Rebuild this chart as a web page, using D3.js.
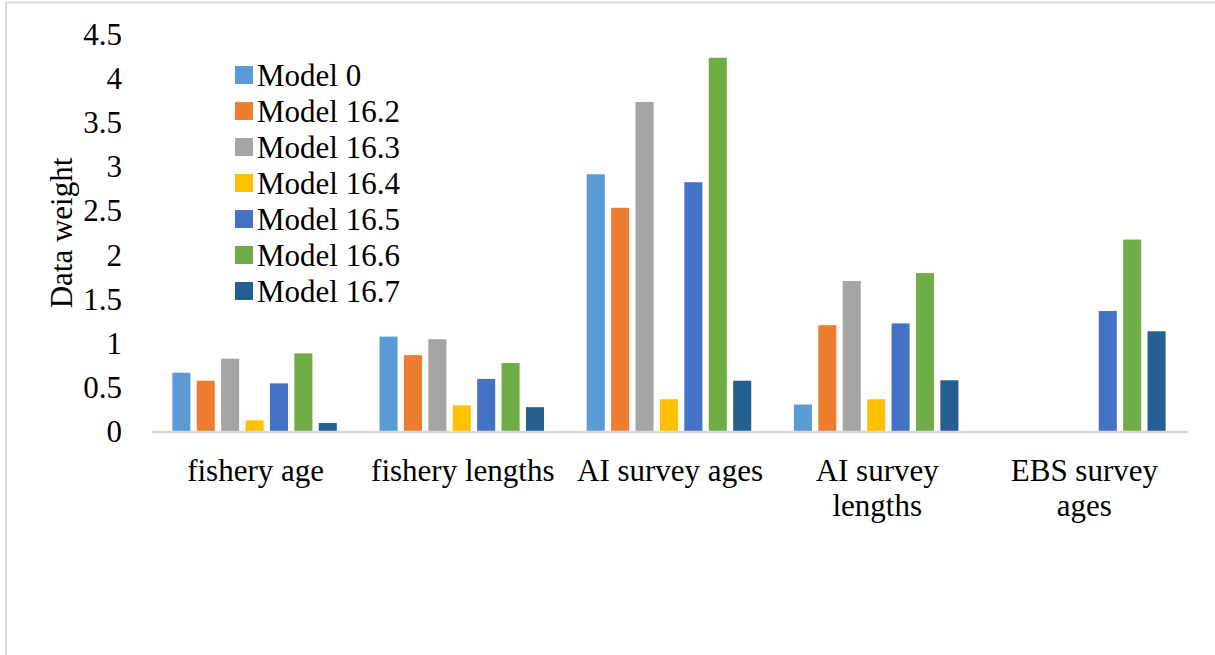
<!DOCTYPE html>
<html>
<head>
<meta charset="utf-8">
<script src="https://cdn.jsdelivr.net/npm/d3@7"></script>
<style>
  html, body { margin: 0; padding: 0; background: #fff; }
  svg { display: block; }
  svg text { font-family: "Times New Roman", "Liberation Serif", Tinos, "DejaVu Serif", serif; fill: #000; }
</style>
</head>
<body>
<svg id="chart" width="1215" height="655"></svg>
<script>
// Data weights by data component and model run
const categories = ["fishery age", "fishery lengths", "AI survey ages", "AI survey lengths", "EBS survey ages"];
const categoryLines = [["fishery age"], ["fishery lengths"], ["AI survey ages"], ["AI survey", "lengths"], ["EBS survey", "ages"]];
const seriesNames = ["Model 0", "Model 16.2", "Model 16.3", "Model 16.4", "Model 16.5", "Model 16.6", "Model 16.7"];
const model0   = [0.66, 1.07, 2.91, 0.30, null];
const model162 = [0.57, 0.86, 2.53, 1.20, null];
const model163 = [0.82, 1.04, 3.73, 1.70, null];
const model164 = [0.12, 0.29, 0.36, 0.36, null];
const model165 = [0.54, 0.59, 2.82, 1.22, 1.36];
const model166 = [0.88, 0.77, 4.23, 1.79, 2.17];
const model167 = [0.09, 0.27, 0.57, 0.575, 1.13];
const seriesValues = [model0, model162, model163, model164, model165, model166, model167];
const colors = ["#5B9BD5", "#ED7D31", "#A5A5A5", "#FFC000", "#4472C4", "#70AD47", "#255E91"];
const yTicks = [0, 0.5, 1, 1.5, 2, 2.5, 3, 3.5, 4, 4.5];

const svg = d3.select("#chart");
const W = 1215, H = 655;
const plot = { left: 152, right: 1188, top: 34, bottom: 431 };
const fontSize = 31;
const serif = "'Times New Roman', 'Liberation Serif', Tinos, 'DejaVu Serif', serif";

// outer frame (only top and left edges fall inside the canvas)
svg.append("rect")
  .attr("x", 6).attr("y", 2.5)
  .attr("width", W + 20).attr("height", H + 20)
  .attr("fill", "none").attr("stroke", "#d9d9d9").attr("stroke-width", 2);

const x0 = d3.scaleBand().domain(categories).range([plot.left, plot.right]).padding(0);
const bw = x0.bandwidth();
const x1 = d3.scaleBand().domain(seriesNames)
  .range([bw * 0.098, bw * 0.892]).paddingInner(0.26).paddingOuter(0);
const y = d3.scaleLinear().domain([0, 4.5]).range([plot.bottom, plot.top]);
const color = d3.scaleOrdinal().domain(seriesNames).range(colors);

// bars
const groups = svg.append("g").selectAll("g")
  .data(categories).join("g")
  .attr("transform", d => `translate(${x0(d)},0)`);

groups.selectAll("rect")
  .data((c, ci) => seriesNames.map((s, si) => ({ s, v: seriesValues[si][ci] })).filter(d => d.v != null))
  .join("rect")
  .attr("x", d => x1(d.s))
  .attr("width", x1.bandwidth())
  .attr("y", d => y(d.v))
  .attr("height", d => y(0) - y(d.v))
  .attr("fill", d => color(d.s));

// baseline
svg.append("line")
  .attr("x1", plot.left).attr("x2", plot.right)
  .attr("y1", y(0) + 1).attr("y2", y(0) + 1)
  .attr("stroke", "#d9d9d9").attr("stroke-width", 2.5);

// y axis labels
const yAxis = d3.axisLeft(y).tickValues(yTicks).tickSize(0).tickPadding(0)
  .tickFormat(d3.format("~g"));
const ya = svg.append("g").attr("transform", "translate(122,0)").call(yAxis)
  .attr("font-family", serif);
ya.select(".domain").remove();
ya.selectAll("text")
  .attr("font-size", fontSize)
  .attr("fill", "#000")
  .attr("dy", "0.34em");

// y axis title
svg.append("text")
  .attr("transform", "translate(72,233) rotate(-90)")
  .attr("text-anchor", "middle")
  .attr("font-family", serif)
  .attr("font-size", fontSize)
  .text("Data weight");

// category labels
categories.forEach((c, i) => {
  const t = svg.append("text")
    .attr("x", x0(c) + bw / 2)
    .attr("y", 481)
    .attr("text-anchor", "middle")
    .attr("font-family", serif)
    .attr("font-size", fontSize);
  categoryLines[i].forEach((line, li) => {
    t.append("tspan")
      .attr("x", x0(c) + bw / 2)
      .attr("dy", li === 0 ? 0 : 35)
      .text(line);
  });
});

// legend
const legend = svg.append("g").attr("transform", "translate(235,75)");
seriesNames.forEach((s, i) => {
  const g = legend.append("g").attr("transform", `translate(0,${i * 36})`);
  g.append("rect").attr("x", 0).attr("y", -9).attr("width", 18).attr("height", 18)
    .attr("fill", color(s));
  g.append("text").attr("x", 22).attr("y", 10.5)
    .attr("font-family", serif)
    .attr("font-size", fontSize)
    .text(s);
});
</script>
</body>
</html>
